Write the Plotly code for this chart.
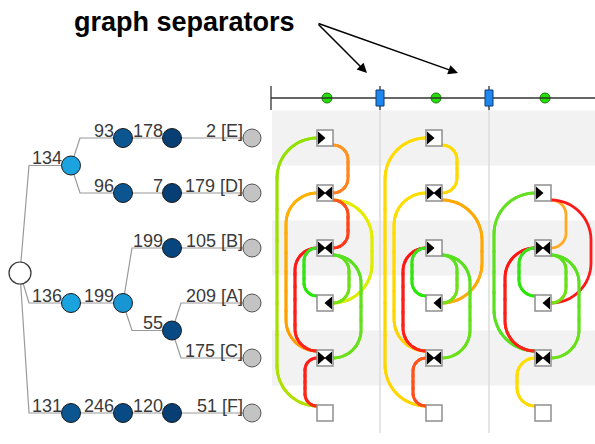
import math
import plotly.graph_objects as go

# ---------------- data ----------------
# leaves of the tree, top to bottom, and their labels
LEAVES = ["E", "D", "B", "A", "C", "F"]
LEAF_LABELS = ["2 [E]", "179 [D]", "105 [B]", "209 [A]", "175 [C]", "51 [F]"]
LEAF_PARENTS = ["n178", "n7", "n199b", "n55", "n55", "n120"]

# inner nodes of the tree
NODES = ["n134", "n93", "n178", "n96", "n7", "n136", "n199a", "n199b", "n55", "n131", "n246", "n120"]
NODE_LABELS = ["134", "93", "178", "96", "7", "136", "199", "199", "55", "131", "246", "120"]
NODE_PARENTS = ["root", "n134", "n93", "n134", "n96", "root", "n136", "n199a", "n199a", "root", "n131", "n246"]

# one small graph per time step; ports: ">" enters from left, "<" enters from right
PANEL_NODES = [
    ["E", "D", "B", "A", "C", "F"],
    ["E", "D", "B", "A", "C", "F"],
    ["D", "B", "A", "C", "F"],
]
PANEL_PORTS = [
    [">", "><", "><", "<", "><", ""],
    [">", "><", ">", "<", "><", ""],
    [">", "><", "<", "><", ""],
]
# edges: (source, target, side of the boxes the arc runs on)
PANEL_EDGES = [
    [("E", "F", "L"), ("E", "D", "R"), ("D", "C", "L"), ("D", "A", "R"), ("D", "B", "R"),
     ("B", "C", "L"), ("B", "A", "L"), ("B", "A", "R"), ("B", "C", "R"), ("C", "F", "L")],
    [("E", "F", "L"), ("E", "D", "R"), ("D", "C", "L"), ("D", "A", "R"),
     ("B", "C", "L"), ("B", "A", "L"), ("B", "A", "R"), ("B", "C", "R"), ("C", "F", "L")],
    [("D", "C", "L"), ("D", "B", "R"), ("D", "A", "R"),
     ("B", "C", "L"), ("B", "A", "L"), ("B", "A", "R"), ("B", "C", "R"), ("C", "F", "L")],
]
TITLE = "graph separators"

# ---------------- layout / style ----------------
W, H = 595, 444
ROW_Y = dict(zip(LEAVES, [138, 193, 248, 303, 358, 413]))
DEPTH_X = [20, 71, 123, 172, 252]
NODE_DEPTH = {"root": 0, "n134": 1, "n136": 1, "n131": 1, "n93": 2, "n96": 2, "n199a": 2,
              "n246": 2, "n178": 3, "n7": 3, "n199b": 3, "n55": 3, "n120": 3}
NODE_Y = {"root": 273, "n134": 165.5, "n93": ROW_Y["E"], "n178": ROW_Y["E"],
          "n96": ROW_Y["D"], "n7": ROW_Y["D"], "n136": ROW_Y["A"], "n199a": ROW_Y["A"],
          "n199b": ROW_Y["B"], "n55": 330.5, "n131": ROW_Y["F"], "n246": ROW_Y["F"],
          "n120": ROW_Y["F"]}
NODE_COLOR = {"n134": "#1aa3df", "n136": "#1aa3df", "n199a": "#1896d4",
              "n93": "#0b5590", "n96": "#0b5590", "n131": "#0b5590",
              "n178": "#073f74", "n7": "#073f74", "n199b": "#07457e", "n55": "#084a84",
              "n246": "#084a84", "n120": "#073f74"}

PANEL_X = [325, 434, 543]
SEPARATOR_X = [380, 489]
STEP_X = [327, 436, 545]
TIMELINE_Y = 98
TIMELINE_X0 = 271

EDGE_LANES = [
    [-48, 23, -39, 47, 23, -30, -21, 24, 36, -20],
    [-49, 23, -40, 48, -31, -22, 23, 36, -21],
    [-49, 23, 48, -38, -24, 23, 36, -26],
]
EDGE_COLORS = [
    [("#8ee000", "#b4e000"), ("#ff9a22", "#ff7a1c"), ("#ffb400", "#ff9900"),
     ("#e8ec00", "#d6ee00"), ("#ff5a1e", "#ff3214"), ("#ff1414", "#ff2418"),
     ("#44dd22", "#22ea00"), ("#55e022", "#7ae010"), ("#55e022", "#6ee018"),
     ("#ff1a1a", "#ff2a12")],
    [("#ffdc00", "#ffd400"), ("#ffdc00", "#ffd800"), ("#ffe000", "#ffd000"),
     ("#ffa800", "#ffaa10"), ("#ff1414", "#ff2418"), ("#44dd22", "#22ea00"),
     ("#55e022", "#7ae010"), ("#55e022", "#6ee018"), ("#ff5a1e", "#ff4a1a")],
    [("#66e022", "#55e020"), ("#ffaa22", "#ffaa22"), ("#ff1a1a", "#ff1a1a"),
     ("#ff1414", "#ff2418"), ("#44dd22", "#22ea00"), ("#55e022", "#7ae010"),
     ("#55e022", "#6ee018"), ("#ffe000", "#ffd800")],
]

FONT = "Liberation Sans, Arial, sans-serif"
TEXT_COLOR = "#3a3a3a"
BOX = 8      # half size of a graph node box
EDGE_W = 2.8


def hex_rgb(h):
    h = h.lstrip("#")
    return tuple(int(h[i:i + 2], 16) for i in (0, 2, 4))


def lerp_color(c0, c1, t):
    a, b = hex_rgb(c0), hex_rgb(c1)
    return "rgb(%d,%d,%d)" % tuple(round(a[i] + (b[i] - a[i]) * t) for i in range(3))


def bezier(p0, p1, p2, p3, n):
    pts = []
    for i in range(n + 1):
        t = i / n
        u = 1 - t
        pts.append((u ** 3 * p0[0] + 3 * u * u * t * p1[0] + 3 * u * t * t * p2[0] + t ** 3 * p3[0],
                    u ** 3 * p0[1] + 3 * u * u * t * p1[1] + 3 * u * t * t * p2[1] + t ** 3 * p3[1]))
    return pts


def arc_points(x0, y0, y1, vx):
    """Rounded bracket from (x0, y0) out to lane vx, down, and back to (x0, y1)."""
    k = 0.5523
    r = min(abs(vx - x0), (y1 - y0) / 2)
    c1 = bezier((x0, y0), (x0 + k * (vx - x0), y0), (vx, y0 + r - k * r), (vx, y0 + r), 16)
    c2 = bezier((vx, y1 - r), (vx, y1 - r + k * r), (x0 + k * (vx - x0), y1), (x0, y1), 16)
    return c1 + c2


def split_path(pts, n, overlap=1.5):
    d = [0.0]
    for i in range(1, len(pts)):
        d.append(d[-1] + math.hypot(pts[i][0] - pts[i - 1][0], pts[i][1] - pts[i - 1][1]))
    total = d[-1]

    def interp(target):
        target = min(max(target, 0.0), total)
        for i in range(1, len(pts)):
            if d[i] >= target:
                t = (target - d[i - 1]) / max(d[i] - d[i - 1], 1e-9)
                return (pts[i - 1][0] + t * (pts[i][0] - pts[i - 1][0]),
                        pts[i - 1][1] + t * (pts[i][1] - pts[i - 1][1]))
        return pts[-1]

    chunks = []
    for c in range(n):
        lo = total * c / n - (overlap if c > 0 else 0)
        hi = total * (c + 1) / n + (overlap if c < n - 1 else 0)
        seg = [interp(lo)] + [p for p, dd in zip(pts, d) if lo < dd < hi] + [interp(hi)]
        chunks.append(seg)
    return chunks


def path_str(pts):
    return "M " + " L ".join("%.2f,%.2f" % q for q in pts)


fig = go.Figure()
shapes = []
annotations = []

# ---- striped rows behind the graphs ----
for i, leaf in enumerate(LEAVES):
    if i % 2 == 0:
        shapes.append(dict(type="rect", xref="x", yref="y", x0=272, x1=W,
                           y0=ROW_Y[leaf] - 27.5, y1=ROW_Y[leaf] + 27.5,
                           fillcolor="#f2f2f2", line=dict(width=0), layer="below"))

# ---- separators and timeline ----
for sx in SEPARATOR_X:
    shapes.append(dict(type="line", xref="x", yref="y", x0=sx, x1=sx, y0=TIMELINE_Y, y1=433,
                       line=dict(color="#dddddd", width=1.5), layer="below"))
shapes.append(dict(type="line", xref="x", yref="y", x0=TIMELINE_X0, x1=W,
                   y0=TIMELINE_Y, y1=TIMELINE_Y, line=dict(color="#333333", width=1.3)))
for tx in [TIMELINE_X0] + SEPARATOR_X:
    shapes.append(dict(type="line", xref="x", yref="y", x0=tx, x1=tx,
                       y0=TIMELINE_Y - 12, y1=TIMELINE_Y + 12,
                       line=dict(color="#333333", width=1.3)))
for sx in SEPARATOR_X:
    shapes.append(dict(type="rect", xref="x", yref="y", x0=sx - 4, x1=sx + 4,
                       y0=TIMELINE_Y - 8, y1=TIMELINE_Y + 8,
                       fillcolor="#1e86ec", line=dict(color="#0b3b7a", width=1)))

# ---- graph edges (colour runs from source to target) ----
for p, cx in enumerate(PANEL_X):
    for (src, dst, side), lane, (c0, c1) in zip(PANEL_EDGES[p], EDGE_LANES[p], EDGE_COLORS[p]):
        if side == "L":
            x0 = cx - BOX
            y0, y1 = ROW_Y[src], ROW_Y[dst] - 7
        else:
            x0 = cx + BOX
            y0, y1 = ROW_Y[src] + 7, ROW_Y[dst]
        pts = arc_points(x0, y0, y1, cx + lane)
        shapes.append(dict(type="path", xref="x", yref="y", path=path_str(pts),
                           line=dict(color=lerp_color(c0, c1, 0.5), width=EDGE_W)))
        if c0 != c1:
            n = 10
            for j, seg in enumerate(split_path(pts, n)):
                shapes.append(dict(type="path", xref="x", yref="y", path=path_str(seg),
                                   line=dict(color=lerp_color(c0, c1, (j + 0.5) / n),
                                             width=EDGE_W)))

# ---- graph node boxes with port glyphs ----
for p, cx in enumerate(PANEL_X):
    for node, ports in zip(PANEL_NODES[p], PANEL_PORTS[p]):
        cy = ROW_Y[node]
        shapes.append(dict(type="rect", xref="x", yref="y", x0=cx - BOX, x1=cx + BOX,
                           y0=cy - BOX, y1=cy + BOX, fillcolor="white",
                           line=dict(color="#8f8f8f", width=1.5)))
        if ">" in ports:
            shapes.append(dict(type="path", xref="x", yref="y",
                               path="M %.1f,%.1f L %.1f,%.1f L %.1f,%.1f Z" % (
                                   cx - 7, cy - 6.5, cx + 0.5, cy, cx - 7, cy + 6.5),
                               fillcolor="black", line=dict(width=0)))
        if "<" in ports:
            shapes.append(dict(type="path", xref="x", yref="y",
                               path="M %.1f,%.1f L %.1f,%.1f L %.1f,%.1f Z" % (
                                   cx + 7, cy - 6.5, cx - 0.5, cy, cx + 7, cy + 6.5),
                               fillcolor="black", line=dict(width=0)))


# ---- tree ----
def node_xy(nid):
    if nid in LEAVES:
        return DEPTH_X[4], ROW_Y[nid]
    return DEPTH_X[NODE_DEPTH[nid]], NODE_Y[nid]


ex, ey = [], []
for child, parent in list(zip(NODES, NODE_PARENTS)) + list(zip(LEAVES, LEAF_PARENTS)):
    px, py = node_xy(parent)
    qx, qy = node_xy(child)
    if abs(py - qy) < 0.5:
        ex += [px, qx, None]
        ey += [py, qy, None]
    else:
        ex += [px, px + 9, qx, None]
        ey += [py, qy, qy, None]
fig.add_trace(go.Scatter(x=ex, y=ey, mode="lines", line=dict(color="#9a9a9a", width=1.2),
                         hoverinfo="skip"))

rx, ry = node_xy("root")
fig.add_trace(go.Scatter(x=[rx], y=[ry], mode="markers",
                         marker=dict(size=22, color="white", line=dict(color="#333333", width=1.2))))
fig.add_trace(go.Scatter(x=[node_xy(n)[0] for n in NODES], y=[node_xy(n)[1] for n in NODES],
                         mode="markers",
                         marker=dict(size=19, color=[NODE_COLOR[n] for n in NODES],
                                     line=dict(color="#1a1a1a", width=1))))
fig.add_trace(go.Scatter(x=[DEPTH_X[4]] * len(LEAVES), y=[ROW_Y[l] for l in LEAVES],
                         mode="markers",
                         marker=dict(size=18, color="#c3c3c3", line=dict(color="#555555", width=1))))

for nid, label in list(zip(NODES, NODE_LABELS)) + list(zip(LEAVES, LEAF_LABELS)):
    x, y = node_xy(nid)
    annotations.append(dict(x=x - 8, y=y + 3.5, xref="x", yref="y", text=label, showarrow=False,
                            xanchor="right", yanchor="bottom", borderpad=0,
                            font=dict(family=FONT, size=18, color=TEXT_COLOR)))

# ---- timeline step markers ----
fig.add_trace(go.Scatter(x=STEP_X, y=[TIMELINE_Y] * len(STEP_X), mode="markers",
                         marker=dict(size=10, color="#22e000", line=dict(color="#1b7a10", width=1))))

# ---- title with pointer arrows ----
annotations.append(dict(x=72, y=22, xref="x", yref="y", text="<b>%s</b>" % TITLE,
                        showarrow=False, xanchor="left", yanchor="middle",
                        font=dict(family=FONT, size=27, color="black")))
for tip_x in (367, 458):
    annotations.append(dict(x=tip_x, y=73, ax=317, ay=23, xref="x", yref="y", axref="x",
                            ayref="y", text="", showarrow=True, arrowhead=2, arrowsize=1.3,
                            arrowwidth=1.5, arrowcolor="black", standoff=0))

fig.update_layout(
    width=W, height=H, margin=dict(l=0, r=0, t=0, b=0),
    paper_bgcolor="white", plot_bgcolor="white", showlegend=False,
    xaxis=dict(range=[0, W], visible=False, fixedrange=True),
    yaxis=dict(range=[H, 0], visible=False, fixedrange=True),
    shapes=shapes, annotations=annotations,
)
fig.write_html("out.html")
